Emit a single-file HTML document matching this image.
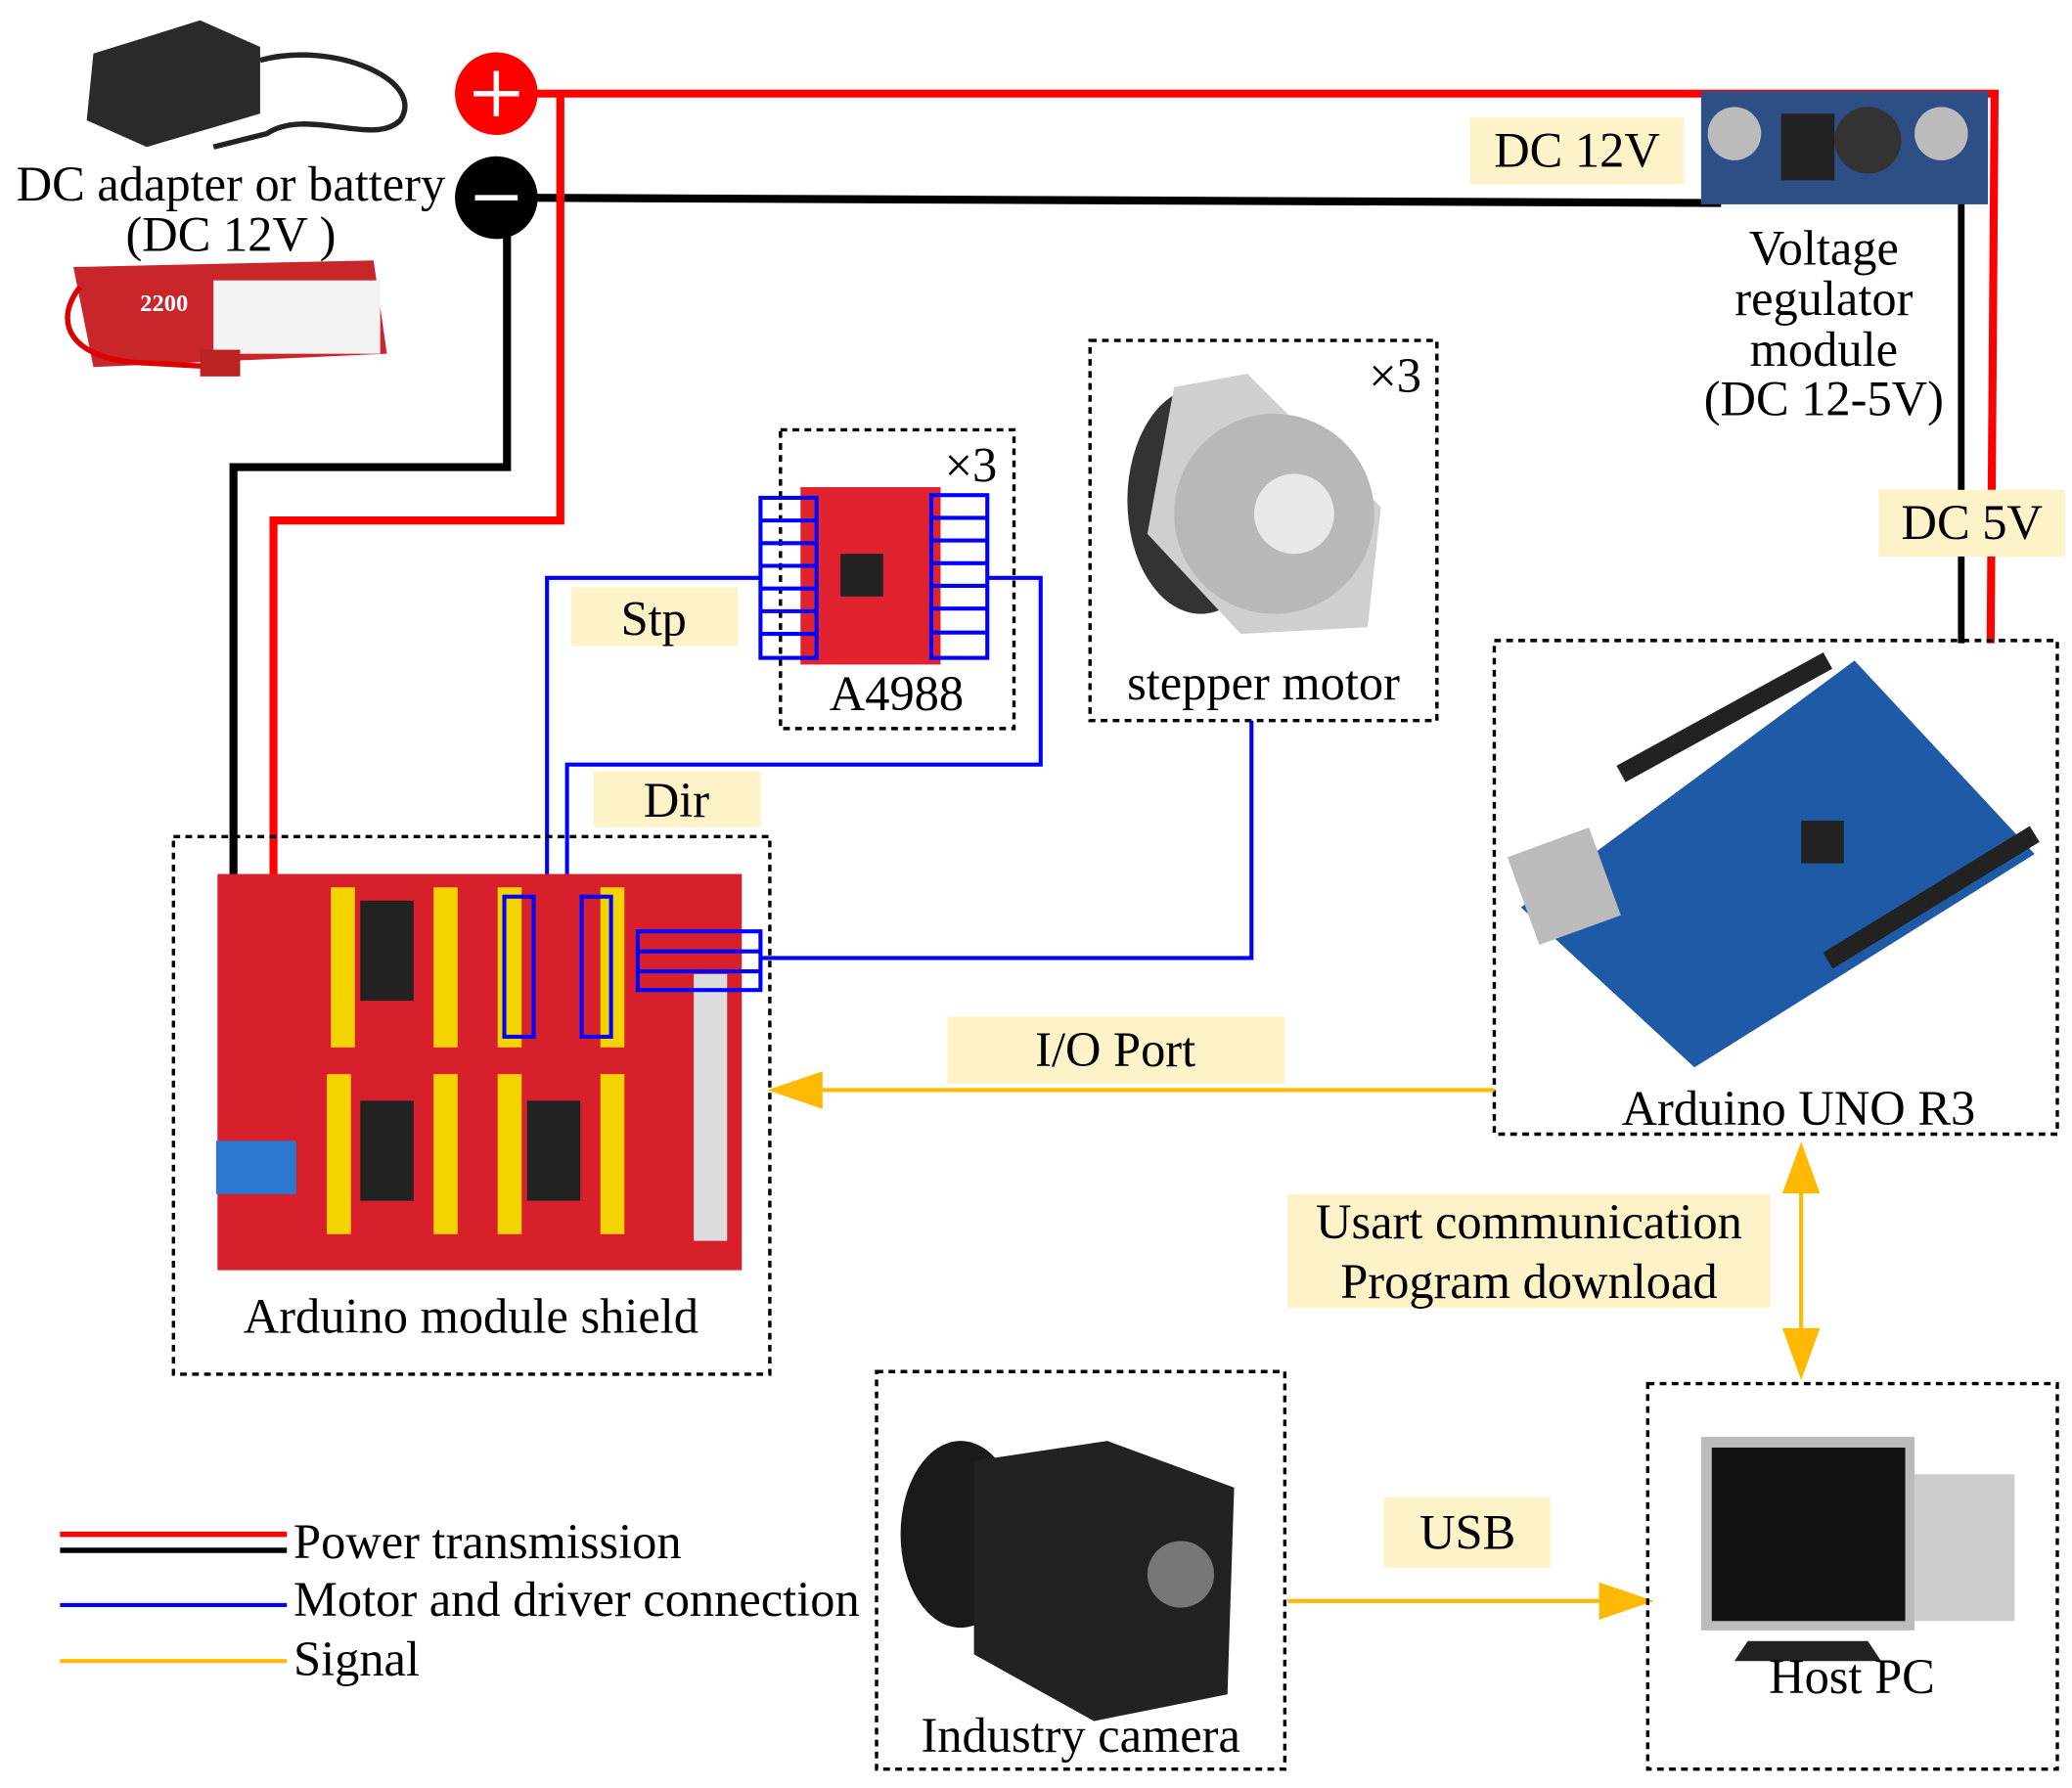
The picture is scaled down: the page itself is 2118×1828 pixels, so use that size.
<!DOCTYPE html>
<html><head><meta charset="utf-8"><style>
html,body{margin:0;padding:0;background:#fff;}
svg{display:block;}
text{font-family:"Liberation Serif",serif;fill:#000;}
</style></head><body>
<svg width="2118" height="1828" viewBox="0 0 1553 1340" xmlns="http://www.w3.org/2000/svg">
<rect width="1553" height="1340" fill="#fff"/>
<!-- adapter -->
<path d="M70 40 L150 15 L195 35 L195 85 L110 110 L65 90 Z" fill="#2a2a2a"/>
<path d="M195 45 C250 30 320 60 300 90 C280 110 230 80 200 100 L160 110" stroke="#222" stroke-width="4" fill="none"/>
<!-- battery -->
<path d="M55 200 L280 195 L290 265 L70 275 Z" fill="#c8262b"/>
<rect x="160" y="210" width="125" height="55" fill="#f2f2f2"/>
<text x="105" y="233" font-size="18" style="fill:#fff" font-weight="bold">2200</text>
<path d="M60 215 C40 240 50 270 110 272 L165 275" stroke="#d00" stroke-width="4" fill="none"/>
<rect x="150" y="262" width="30" height="20" fill="#b22"/>
<text x="173" y="150" font-size="37" text-anchor="middle">DC adapter or battery</text>
<text x="173" y="188" font-size="37" text-anchor="middle">(DC 12V )</text>
<!-- power wires -->
<polyline points="372,70 1495,70 1492,482" stroke="#f00" stroke-width="6" fill="none"/>
<polyline points="372,148 1290,152" stroke="#000" stroke-width="6" fill="none"/>
<polyline points="1470,150 1470,482" stroke="#000" stroke-width="5" fill="none"/>
<polyline points="420,70 420,390 205,390 205,872" stroke="#f00" stroke-width="6" fill="none"/>
<polyline points="380,148 380,350 175,350 175,872" stroke="#000" stroke-width="6" fill="none"/>
<circle cx="372" cy="70" r="31" fill="#f00"/>
<path d="M355 70 H389 M372 53 V87" stroke="#fff" stroke-width="4"/>
<circle cx="372" cy="148" r="31" fill="#000"/>
<path d="M356 148 H388" stroke="#fff" stroke-width="4"/>
<!-- regulator -->
<rect x="1275" y="68" width="215" height="85" fill="#2d4f86"/>
<circle cx="1300" cy="100" r="20" fill="#bbb"/>
<circle cx="1455" cy="100" r="20" fill="#bbb"/>
<rect x="1335" y="85" width="40" height="50" fill="#222"/>
<circle cx="1400" cy="105" r="25" fill="#333"/>
<rect x="1102" y="88" width="160" height="50" fill="#fdf2c8"/>
<text x="1182" y="125" font-size="37" text-anchor="middle">DC 12V</text>
<text x="1367" y="198" font-size="37" text-anchor="middle">Voltage</text>
<text x="1367" y="236" font-size="37" text-anchor="middle">regulator</text>
<text x="1367" y="274" font-size="37" text-anchor="middle">module</text>
<text x="1367" y="311" font-size="37" text-anchor="middle">(DC 12-5V)</text>
<rect x="1408" y="367" width="140" height="50" fill="#fdf2c8"/>
<text x="1478" y="404" font-size="37" text-anchor="middle">DC 5V</text>
<!-- A4988 -->
<rect x="585" y="322" width="175" height="224" fill="none" stroke="#000" stroke-width="2.5" stroke-dasharray="5,4"/>
<rect x="600" y="365" width="105" height="133" fill="#e0232e"/>
<rect x="630" y="415" width="32" height="32" fill="#222"/>
<text x="708" y="361" font-size="37">×3</text>
<text x="672" y="532" font-size="37" text-anchor="middle">A4988</text>
<g stroke="#00f" stroke-width="3" fill="none">
<rect x="570" y="373" width="42" height="120"/>
<rect x="698" y="371" width="42" height="122"/>
<path d="M570 390H612M570 407H612M570 424H612M570 441H612M570 458H612M570 475H612"/>
<path d="M698 388H740M698 405H740M698 422H740M698 439H740M698 456H740M698 474H740"/>
<polyline points="570,433 410,433 410,722"/>
<polyline points="740,433 780,433 780,573 425,573 425,725"/>
<polyline points="938,540 938,718 570,718"/>
</g>
<rect x="428" y="440" width="125" height="44" fill="#fdf2c8"/>
<text x="490" y="476" font-size="37" text-anchor="middle">Stp</text>
<rect x="445" y="578" width="125" height="42" fill="#fdf2c8"/>
<text x="507" y="612" font-size="37" text-anchor="middle">Dir</text>
<!-- stepper -->
<rect x="817" y="255" width="260" height="285" fill="none" stroke="#000" stroke-width="2.5" stroke-dasharray="5,4"/>
<ellipse cx="900" cy="375" rx="55" ry="85" fill="#333"/>
<path d="M880 290 L935 280 L1035 380 L1025 470 L930 475 L860 400 Z" fill="#cfcfcf"/>
<circle cx="955" cy="385" r="75" fill="#b8b8b8"/>
<circle cx="970" cy="385" r="30" fill="#e8e8e8"/>
<text x="1026" y="294" font-size="37">×3</text>
<text x="947" y="524" font-size="37" text-anchor="middle">stepper motor</text>
<!-- UNO -->
<rect x="1120" y="480" width="422" height="370" fill="none" stroke="#000" stroke-width="2.5" stroke-dasharray="5,4"/>
<path d="M1140 680 L1390 495 L1525 640 L1270 800 Z" fill="#1f5aa6"/>
<rect x="1140" y="630" width="65" height="70" fill="#bbb" transform="rotate(-20 1170 665)"/>
<rect x="1350" y="615" width="32" height="32" fill="#222"/>
<path d="M1215 580 L1370 495" stroke="#222" stroke-width="14"/>
<path d="M1370 720 L1525 625" stroke="#222" stroke-width="14"/>
<text x="1348" y="843" font-size="37" text-anchor="middle">Arduino UNO R3</text>
<!-- shield -->
<rect x="130" y="627" width="447" height="403" fill="none" stroke="#000" stroke-width="2.5" stroke-dasharray="5,4"/>
<rect x="163" y="655" width="393" height="297" fill="#d8202c"/>
<rect x="162" y="855" width="60" height="40" fill="#2a78d0"/>
<g fill="#f3d400">
<rect x="248" y="665" width="18" height="120"/><rect x="325" y="665" width="18" height="120"/>
<rect x="373" y="665" width="18" height="120"/><rect x="450" y="665" width="18" height="120"/>
<rect x="245" y="805" width="18" height="120"/><rect x="325" y="805" width="18" height="120"/>
<rect x="373" y="805" width="18" height="120"/><rect x="450" y="805" width="18" height="120"/>
</g>
<rect x="270" y="675" width="40" height="75" fill="#222"/>
<rect x="270" y="825" width="40" height="75" fill="#222"/>
<rect x="395" y="825" width="40" height="75" fill="#222"/>
<rect x="520" y="730" width="25" height="200" fill="#ddd"/>
<g stroke="#00f" stroke-width="3" fill="none">
<rect x="378" y="672" width="22" height="105"/><rect x="436" y="672" width="22" height="105"/>
<rect x="478" y="698" width="92" height="44"/><path d="M478 713H570M478 728H570"/>
</g>
<text x="353" y="999" font-size="37" text-anchor="middle">Arduino module shield</text>
<!-- signals -->
<g stroke="#ffb900" stroke-width="3" fill="#ffb900">
<line x1="1120" y1="817" x2="600" y2="817"/>
<polygon points="580,817 615,805 615,829"/>
<line x1="1350" y1="880" x2="1350" y2="1010"/>
<polygon points="1350,860 1338,893 1362,893"/>
<polygon points="1350,1030 1338,997 1362,997"/>
<line x1="965" y1="1200" x2="1210" y2="1200"/>
<polygon points="1235,1200 1200,1188 1200,1212"/>
</g>
<rect x="710" y="762" width="253" height="50" fill="#fdf2c8"/>
<text x="836" y="799" font-size="37" text-anchor="middle">I/O Port</text>
<rect x="965" y="895" width="362" height="85" fill="#fdf2c8"/>
<text x="1146" y="928" font-size="37" text-anchor="middle">Usart communication</text>
<text x="1146" y="973" font-size="37" text-anchor="middle">Program download</text>
<rect x="1037" y="1122" width="125" height="53" fill="#fdf2c8"/>
<text x="1100" y="1161" font-size="37" text-anchor="middle">USB</text>
<!-- camera -->
<rect x="657" y="1028" width="306" height="298" fill="none" stroke="#000" stroke-width="2.5" stroke-dasharray="5,4"/>
<ellipse cx="720" cy="1150" rx="45" ry="70" fill="#1a1a1a"/>
<path d="M730 1095 L830 1080 L925 1115 L920 1270 L820 1290 L730 1240 Z" fill="#222"/>
<circle cx="885" cy="1180" r="25" fill="#777"/>
<text x="810" y="1313" font-size="37" text-anchor="middle">Industry camera</text>
<!-- PC -->
<rect x="1235" y="1037" width="307" height="289" fill="none" stroke="#000" stroke-width="2.5" stroke-dasharray="5,4"/>
<rect x="1435" y="1105" width="75" height="110" fill="#ccc"/>
<rect x="1275" y="1077" width="160" height="145" fill="#bbb"/>
<rect x="1283" y="1085" width="145" height="130" fill="#111"/>
<path d="M1310 1230 L1400 1230 L1410 1245 L1300 1245 Z" fill="#222"/>
<text x="1388" y="1269" font-size="37" text-anchor="middle">Host PC</text>
<!-- legend -->
<line x1="45" y1="1150" x2="215" y2="1150" stroke="#f00" stroke-width="4"/>
<line x1="45" y1="1162" x2="215" y2="1162" stroke="#000" stroke-width="4"/>
<line x1="45" y1="1203" x2="215" y2="1203" stroke="#00f" stroke-width="3"/>
<line x1="45" y1="1245" x2="215" y2="1245" stroke="#ffb900" stroke-width="3"/>
<text x="220" y="1168" font-size="37">Power transmission</text>
<text x="220" y="1211" font-size="37">Motor and driver connection</text>
<text x="220" y="1256" font-size="37">Signal</text>
</svg>
</body></html>
